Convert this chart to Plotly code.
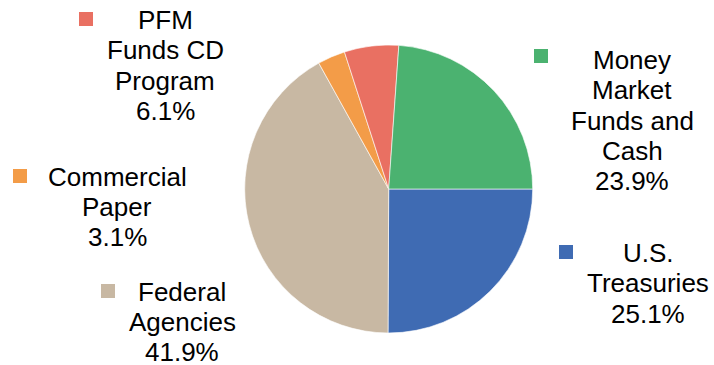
import plotly.graph_objects as go

# Portfolio composition, listed clockwise from 3 o'clock
sectors = ["U.S. Treasuries", "Federal Agencies", "Commercial Paper",
           "PFM Funds CD Program", "Money Market Funds and Cash"]
shares = [25.1, 41.9, 3.1, 6.1, 23.9]
colors = ["#3F6BB3", "#C8B8A3", "#F39C48", "#E97062", "#4BB270"]

# Label text broken into display lines (percentage line appended below)
label_lines = [
    ["U.S.", "Treasuries"],
    ["Federal", "Agencies"],
    ["Commercial", "Paper"],
    ["PFM", "Funds CD", "Program"],
    ["Money", "Market", "Funds and", "Cash"],
]

W, H = 714, 365

# Label layout in pixels: text centre x, first line y, swatch box (x0, y0)
label_layout = [
    dict(tx=648, ty=253, sx=559, sy=245),
    dict(tx=182, ty=291.7, sx=101, sy=284),
    dict(tx=117, ty=176.5, sx=13, sy=169),
    dict(tx=165, ty=20, sx=79, sy=12),
    dict(tx=632, ty=60, sx=534, sy=49),
]
LINE_STEP = 30.3
SWATCH = 14
FONT = dict(family="Liberation Sans, Arial, sans-serif", size=26, color="#000000")


def px(x):
    return x / W


def py(y):
    return 1 - y / H


fig = go.Figure(go.Pie(
    labels=sectors,
    values=shares,
    sort=False,
    direction="clockwise",
    rotation=90,
    marker=dict(colors=colors, line=dict(color="#FFFFFF", width=0.6)),
    textinfo="none",
    hoverinfo="label+percent",
    showlegend=False,
    domain=dict(x=[px(244.7), px(532.7)], y=[py(333), py(45)]),
))

annotations = []
shapes = []
for name, val, col, lines, lay in zip(sectors, shares, colors, label_lines, label_layout):
    all_lines = lines + [f"{val:.1f}%"]
    for i, line in enumerate(all_lines):
        annotations.append(dict(
            x=px(lay["tx"]), y=py(lay["ty"] + i * LINE_STEP),
            xref="paper", yref="paper", xanchor="center", yanchor="middle",
            text=line, showarrow=False, font=FONT,
        ))
    shapes.append(dict(
        type="rect", xref="paper", yref="paper",
        x0=px(lay["sx"]), x1=px(lay["sx"] + SWATCH),
        y0=py(lay["sy"] + SWATCH), y1=py(lay["sy"]),
        fillcolor=col, line=dict(width=0),
    ))

fig.update_layout(
    width=W, height=H,
    margin=dict(l=0, r=0, t=0, b=0),
    paper_bgcolor="#FFFFFF",
    plot_bgcolor="#FFFFFF",
    annotations=annotations,
    shapes=shapes,
)

fig.write_html("out.html")
